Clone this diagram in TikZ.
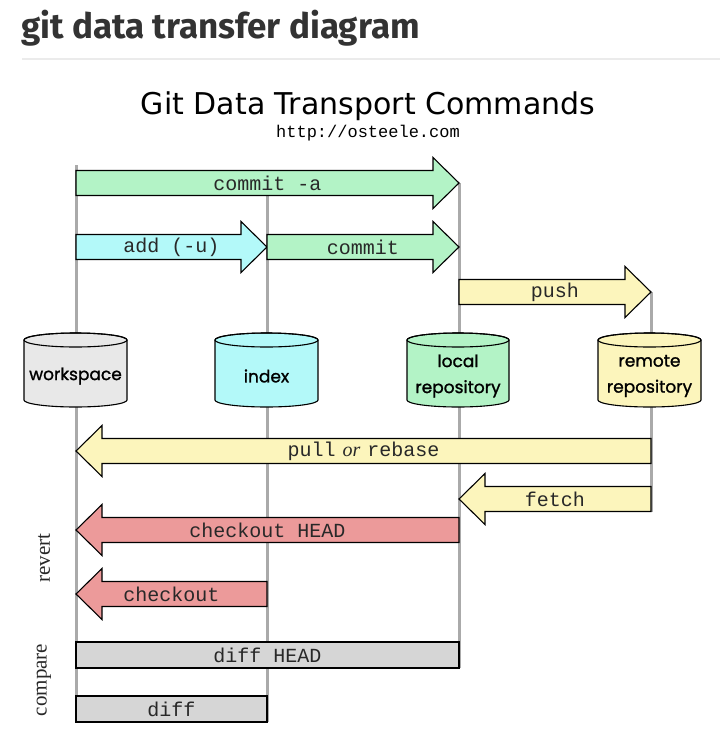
\documentclass[tikz,border=0pt]{standalone}
\usepackage{fontspec}
\setmainfont{Liberation Serif}
\newfontfamily\hdrfont{Fira Sans}
\newfontfamily\ttlfont{DejaVu Sans}
\newfontfamily\cmdfont{Liberation Mono}
\newfontfamily\cylfont[FakeBold=1.2]{Poppins}
\definecolor{cgreen}{RGB}{179,243,198}
\definecolor{ccyan}{RGB}{179,249,249}
\definecolor{cyellow}{RGB}{252,245,188}
\definecolor{cred}{RGB}{236,154,154}
\definecolor{cgray}{RGB}{214,214,214}
\definecolor{cws}{RGB}{232,232,232}
\definecolor{clane}{RGB}{170,170,170}
\definecolor{ctxt}{RGB}{40,40,40}
\newcommand\rarr[6]{%
  \draw[arrowshape, fill=#5] (#2,#4-12.5) -- (#3-26,#4-12.5) -- (#3-26,#4-25.5) -- (#3,#4) -- (#3-26,#4+25.5) -- (#3-26,#4+12.5) -- (#2,#4+12.5) -- cycle;
  \node[cmd] (#1) at ({(#2+#3)/2},#4) {#6};}
\newcommand\larr[6]{%
  \draw[arrowshape, fill=#5] (#2,#4-12.5) -- (#3+26,#4-12.5) -- (#3+26,#4-25.5) -- (#3,#4) -- (#3+26,#4+25.5) -- (#3+26,#4+12.5) -- (#2,#4+12.5) -- cycle;
  \node[cmd] (#1) at ({(#2+#3)/2},#4) {#6};}
\newcommand\cyl[7]{% name, x1, x2, top, bottom, fill, label
  \draw[arrowshape, fill=#6] (#2,#4+7) -- (#2,#5-7) arc[start angle=180, end angle=0, x radius={(#3-#2)/2}, y radius=7] -- (#3,#4+7) arc[start angle=0, end angle=-180, x radius={(#3-#2)/2}, y radius=7] -- cycle;
  \draw[arrowshape] ({(#2+#3)/2},#4+7) ellipse[x radius={(#3-#2)/2}, y radius=7];
  \node[cyltxt] (#1) at ({(#2+#3)/2},{(#4+#5)/2+6}) {#7};}
\begin{document}
\begin{tikzpicture}[x=1pt,y=-1pt,
  arrowshape/.style={draw=black, line width=1.1pt, line join=miter},
  cmd/.style={inner sep=0pt, text=ctxt, font=\cmdfont\fontsize{20}{20}\selectfont},
  cyltxt/.style={inner sep=0pt, align=center, text=black, font=\cylfont\fontsize{17}{26}\selectfont},
  lane/.style={draw=clane, line width=3pt},
  side/.style={inner sep=0pt, rotate=90, text=ctxt, font=\fontsize{21}{21}\selectfont}]
\useasboundingbox (0,0) rectangle (720,748);
\fill[white] (0,0) rectangle (720,748);
% header
\node[anchor=west, inner sep=0pt, text=black!80, font=\hdrfont\bfseries\fontsize{35}{35}\selectfont] (hdr) at (21,28) {git data transfer diagram};
\draw[draw=black!8, line width=1.5pt] (22,59) -- (720,59);
% title
\node[inner sep=0pt, font=\ttlfont\fontsize{30}{30}\selectfont] (ttl) at (368,106) {Git Data Transport Commands};
\node[inner sep=0pt, font=\cmdfont\fontsize{17}{17}\selectfont] (url) at (368,133) {http://osteele.com};
% lanes
\coordinate (w1) at (76,165); \coordinate (w2) at (76,722);
\coordinate (i1) at (267,183); \coordinate (i2) at (267,722);
\coordinate (l1) at (459,183); \coordinate (l2) at (459,668);
\coordinate (r1) at (651,292); \coordinate (r2) at (651,512);
\draw[lane] (w1) -- (w2);
\draw[lane] (i1) -- (i2);
\draw[lane] (l1) -- (l2);
\draw[lane] (r1) -- (r2);
% forward arrows
\rarr{commita}{76}{459}{183}{cgreen}{commit -a}
\rarr{add}{76}{267}{247}{ccyan}{add (-u)}
\rarr{commit}{267}{459}{247}{cgreen}{commit}
\rarr{push}{459}{651}{292}{cyellow}{push}
% cylinders
\cyl{workspace}{24}{127}{333}{407}{cws}{workspace}
\cyl{index}{215}{318}{333}{407}{ccyan}{index}
\cyl{local}{407}{509}{333}{407}{cgreen}{local\\repository}
\cyl{remote}{598}{701}{333}{407}{cyellow}{remote\\repository}
% backward arrows
\larr{pull}{651}{76}{451}{cyellow}{pull\hspace{7pt}{\rmfamily\itshape or}\hspace{7pt}rebase}
\larr{fetch}{651}{459}{499}{cyellow}{fetch}
\larr{checkouthead}{459}{76}{530}{cred}{checkout HEAD}
\larr{checkout}{267}{76}{594}{cred}{checkout}
% compare bars
\draw[arrowshape, fill=cgray] (76,642) rectangle (459,668);
\node[cmd] (diffhead) at (267.5,655) {diff HEAD};
\draw[arrowshape, fill=cgray] (76,696) rectangle (267,722);
\node[cmd] (diff) at (171.5,709) {diff};
% side labels
\node[side] (revert) at (44,558) {revert};
\node[side] (compare) at (44,680) {compare};
\end{tikzpicture}
\end{document}
